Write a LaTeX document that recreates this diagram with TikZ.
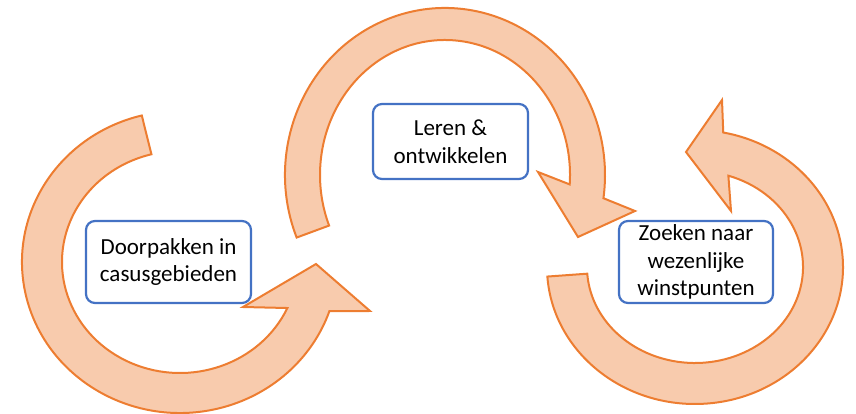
\documentclass[tikz,border=0pt]{standalone}
\usepackage{fontspec}
\setmainfont{Carlito}
\definecolor{arrowfill}{HTML}{F8CBAD}
\definecolor{arrowline}{HTML}{ED7D31}
\definecolor{boxline}{HTML}{4472C4}
\tikzset{
  cyclearrow/.style={fill=arrowfill,draw=arrowline,line width=2pt,line join=miter},
  topic/.style={draw=boxline,fill=white,line width=2.2pt,rounded corners=9pt,align=center,inner sep=0pt,font=\fontsize{23}{27.5}\selectfont}
}
\begin{document}
\begin{tikzpicture}[x=1pt,y=1pt]
\useasboundingbox (0,0) rectangle (856,414);
\begin{scope}[shift={(180,152)}]
\draw[cyclearrow] (104:158 and 151) arc[start angle=104,end angle=341,x radius=158,y radius=151] -- (190,-49) -- (136,-2) -- (63,-45) -- (335.5:118 and 111) arc[start angle=335.5,end angle=104,x radius=118,y radius=111] -- cycle;
\end{scope}
\begin{scope}[shift={(445,239)}]
\draw[cyclearrow] (202:160 and 167) arc[start angle=202,end angle=-8,x radius=160,y radius=167] -- (190,-36) -- (133,-62) -- (93,3) -- (-4:125 and 135) arc[start angle=-4,end angle=202,x radius=125,y radius=135] -- cycle;
\end{scope}
\begin{scope}[shift={(695,147)}]
\draw[cyclearrow] (184:148 and 137) arc[start angle=184,end angle=439,x radius=148,y radius=137] -- (27,167) -- (-9,115) -- (36,56) -- (432:108 and 96) arc[start angle=432,end angle=184,x radius=108,y radius=96] -- cycle;
\end{scope}
\node[topic,minimum width=165pt,minimum height=82pt] (doorpakken) at (168.5,152) {Doorpakken in\\casusgebieden};
\node[topic,minimum width=155pt,minimum height=75pt] (leren) at (450.5,272.5) {Leren \&\\ontwikkelen};
\node[topic,minimum width=154pt,minimum height=82pt] (zoeken) at (696,152) {Zoeken naar\\wezenlijke\\winstpunten};
\end{tikzpicture}
\end{document}
